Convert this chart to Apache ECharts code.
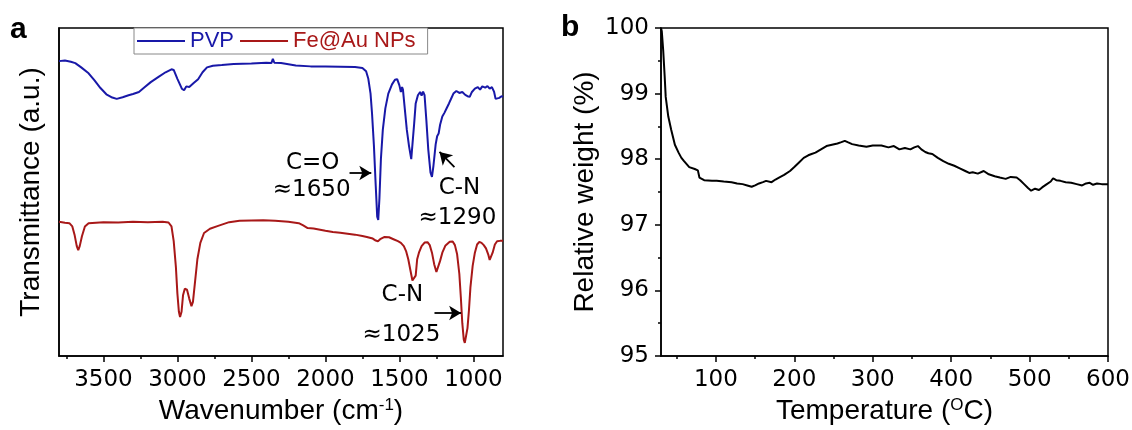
<!DOCTYPE html>
<html>
<head>
<meta charset="utf-8">
<script src="https://cdn.jsdelivr.net/npm/echarts@6/dist/echarts.min.js"></script>
<style>
html,body{margin:0;padding:0;background:#fff;}
#chart{width:1132px;height:430px;}
</style>
</head>
<body>
<div id="chart"></div>
<script>
// ---------- data ----------
const seriesNames = ['PVP', 'Fe@Au NPs'];
// FTIR: [wavenumber (cm-1), transmittance (a.u.)]
const pvpData = [[3800,89.9],[3760,90.1],[3720,89.7],[3690,89.3],[3650,88.0],[3600,86.2],[3560,84.0],[3520,81.7],[3480,79.8],[3440,78.8],[3410,78.4],[3370,78.9],[3330,79.5],[3300,79.9],[3260,80.5],[3220,82.0],[3180,83.5],[3130,85.0],[3080,86.5],[3040,87.4],[3025,87.2],[3000,84.5],[2970,81.5],[2955,81.0],[2940,82.2],[2920,82.0],[2890,83.2],[2860,84.4],[2830,86.5],[2800,88.0],[2760,88.5],[2700,88.7],[2620,89.0],[2500,89.2],[2400,89.4],[2365,89.3],[2355,90.6],[2345,89.4],[2300,89.3],[2200,88.6],[2100,88.3],[2000,88.3],[1900,88.2],[1800,88.1],[1750,87.8],[1725,86.8],[1710,84.5],[1695,80.0],[1685,74.0],[1672,64.0],[1660,52.0],[1650,42.5],[1643,41.5],[1635,48.0],[1625,60.0],[1612,69.0],[1595,75.5],[1575,80.0],[1550,82.8],[1530,84.2],[1515,84.4],[1500,82.5],[1490,80.5],[1482,82.0],[1476,81.2],[1465,76.0],[1450,69.0],[1435,64.0],[1420,60.0],[1410,60.5],[1400,71.0],[1390,77.0],[1375,79.5],[1360,80.5],[1350,79.4],[1340,80.6],[1330,79.5],[1318,72.0],[1305,63.0],[1290,56.0],[1280,54.6],[1270,58.0],[1255,64.5],[1245,67.0],[1235,67.8],[1225,70.5],[1210,73.0],[1195,74.2],[1180,75.6],[1165,77.0],[1150,78.5],[1135,80.0],[1115,80.8],[1095,80.2],[1075,80.5],[1055,79.6],[1040,79.2],[1025,79.0],[1010,80.5],[990,81.5],[970,82.0],[955,81.2],[940,82.2],[920,81.8],[905,82.3],[890,81.5],[875,82.0],[860,80.5],[850,78.4],[840,78.0],[825,78.7],[810,79.2],[800,79.0]];
const feauData = [[3800,40.9],[3760,40.6],[3730,40.5],[3710,39.5],[3695,37.0],[3680,33.5],[3670,32.3],[3660,33.5],[3645,36.5],[3625,39.5],[3600,40.5],[3500,40.8],[3400,40.7],[3300,40.9],[3200,40.8],[3100,40.9],[3060,40.7],[3040,39.5],[3025,35.0],[3010,27.0],[3000,19.0],[2990,13.5],[2982,11.9],[2972,13.5],[2962,18.5],[2950,20.5],[2935,20.2],[2920,17.5],[2905,15.2],[2895,16.5],[2880,23.0],[2865,29.5],[2845,34.5],[2820,37.5],[2780,38.8],[2730,39.6],[2650,40.8],[2580,41.2],[2500,41.3],[2420,41.4],[2340,41.2],[2250,40.9],[2180,40.5],[2150,39.8],[2120,39.0],[2080,38.9],[2000,38.2],[1950,37.8],[1900,37.6],[1850,37.3],[1800,37.0],[1750,36.6],[1720,36.3],[1680,35.8],[1660,35.2],[1645,35.0],[1630,35.6],[1600,36.3],[1570,36.2],[1540,35.6],[1510,35.0],[1490,34.5],[1470,33.5],[1455,32.0],[1440,29.5],[1425,26.0],[1412,23.0],[1400,22.6],[1390,24.5],[1380,29.5],[1368,31.5],[1350,33.5],[1330,34.6],[1310,34.7],[1295,33.8],[1280,31.5],[1265,28.0],[1250,25.6],[1240,26.0],[1225,29.0],[1210,31.5],[1190,33.6],[1160,34.8],[1140,34.9],[1125,33.8],[1110,31.0],[1095,25.0],[1085,18.0],[1075,10.0],[1065,5.0],[1058,4.0],[1050,4.5],[1040,8.5],[1030,14.0],[1020,21.0],[1005,27.5],[990,31.5],[975,34.0],[960,34.8],[945,34.5],[930,33.8],[915,32.8],[900,31.0],[890,29.3],[880,29.8],[870,31.5],[855,34.0],[840,35.0],[820,35.1],[800,35.1]];
// TGA: [temperature (oC), relative weight (%)]
const tgaData = [[30,100],[31,99.95],[32.8,99.66],[34.7,99.26],[36,98.95],[39.3,98.65],[43,98.45],[47.7,98.22],[52.4,98.1],[56,98.02],[59.4,97.97],[66,97.88],[73,97.85],[77,97.83],[79,97.72],[85,97.68],[95,97.67],[101,97.67],[110,97.66],[120,97.65],[127,97.63],[134,97.62],[140,97.6],[145.6,97.58],[150,97.6],[155,97.63],[160,97.65],[164,97.67],[171,97.65],[176,97.69],[180.5,97.72],[187,97.76],[194.5,97.82],[200,97.88],[206,97.95],[212,98.02],[217.8,98.06],[222,98.08],[227,98.1],[234,98.15],[241,98.2],[248,98.22],[255,98.24],[260,98.26],[264.4,98.28],[268,98.26],[273.7,98.23],[282,98.21],[292,98.19],[300,98.21],[311,98.21],[320,98.18],[327,98.2],[334,98.15],[341,98.17],[348,98.15],[353,98.18],[357.6,98.2],[362,98.15],[367,98.11],[371,98.09],[376,98.08],[383,98.02],[390,97.97],[397,97.93],[404,97.9],[411,97.86],[418,97.82],[423,97.79],[427.5,97.8],[434,97.78],[441.5,97.82],[448,97.77],[455.5,97.74],[462,97.72],[469.5,97.7],[476,97.73],[483.5,97.72],[488,97.68],[493,97.62],[498,97.56],[502,97.52],[507,97.55],[512,97.53],[516,97.57],[522,97.62],[527,97.66],[530,97.71],[534,97.68],[539.4,97.67],[546,97.65],[553,97.64],[560,97.62],[567,97.6],[572,97.63],[576.7,97.64],[581,97.61],[586,97.63],[592,97.62],[600,97.62]];
// tick values
const wavenumberMajorTicks = [1000,1500,2000,2500,3000,3500];
const wavenumberMinorTicks = [1250,1750,2250,2750,3250,3750];
const tempMajorTicks = [100,200,300,400,500,600];
const tempMinorTicks = [50,150,250,350,450,550];
// annotations: [wavenumber, value, text]
const annotationTexts = [[2086,58.8,'C=O'],[2093,50.6,'≈1650'],[1094,51.2,'C-N'],[1108,42.1,'≈1290'],[1480,18.6,'C-N'],[1486,6.4,'≈1025']];
const annotationArrows = [[[1837,55.8],[1690,55.8]],[[1128,57.6],[1229,62.2]],[[1263,13.1],[1083,13.1]]];

// ---------- chart ----------
const BLUE = '#1818a8', RED = '#a81818';
const FONT = '"Liberation Sans", Arial, sans-serif';
const NUMFONT = '"DejaVu Sans", sans-serif';
const chart = echarts.init(document.getElementById('chart'), null, {renderer:'canvas'});
const axisLine = {show:true, lineStyle:{color:'#000', width:1.5}};
const tickLabel = {fontSize:23, color:'#000', fontFamily:NUMFONT, formatter:(v)=>String(v)};
const nameStyle = {fontSize:28, color:'#000', fontFamily:FONT,
  rich:{sup:{fontSize:17, verticalAlign:'top', color:'#000', fontFamily:FONT, padding:[0,0,12,0]}}};

const option = {
  animation:false,
  backgroundColor:'#fff',
  textStyle:{fontFamily:FONT},
  title:[
    {text:'a', left:5, top:10, textStyle:{fontSize:30, fontWeight:'bold', color:'#000', fontFamily:FONT}},
    {text:'b', left:556, top:8, textStyle:{fontSize:30, fontWeight:'bold', color:'#000', fontFamily:FONT}}
  ],
  legend:{
    left:134, top:28, padding:[2,12,2,3], itemGap:6, itemWidth:48, itemHeight:2, icon:'rect',
    borderColor:'#888', borderWidth:1, backgroundColor:'#fff', z:10,
    textStyle:{fontSize:22, fontFamily:FONT},
    data:[{name:seriesNames[0], textStyle:{color:BLUE}},{name:seriesNames[1], textStyle:{color:RED}}]
  },
  grid:[
    {left:59, top:28, width:444, height:328, show:true, borderColor:'#000', borderWidth:1.5, containLabel:false, outerBoundsMode:'none'},
    {left:661, top:28, width:447, height:328, show:true, borderColor:'#000', borderWidth:1.5, containLabel:false, outerBoundsMode:'none'}
  ],
  xAxis:[
    {gridIndex:0, type:'value', min:800, max:3800, inverse:true, position:'bottom',
     axisLine, splitLine:{show:false},
     axisTick:{show:true, length:6, lineStyle:{color:'#000', width:1.5}, customValues:wavenumberMajorTicks},
     axisLabel:{...tickLabel, margin:13, customValues:wavenumberMajorTicks},
     name:'Wavenumber (cm{sup|-1})', nameLocation:'middle', nameGap:33, nameTextStyle:nameStyle},
    {gridIndex:0, type:'value', min:800, max:3800, inverse:true, position:'bottom', offset:0,
     axisLine:{show:false}, splitLine:{show:false}, axisLabel:{show:false},
     axisTick:{show:true, length:3, lineStyle:{color:'#000', width:1.5}, customValues:wavenumberMinorTicks}},
    {gridIndex:1, type:'value', min:30, max:600, position:'bottom',
     axisLine, splitLine:{show:false},
     axisTick:{show:true, length:6, lineStyle:{color:'#000', width:1.5}, customValues:tempMajorTicks},
     axisLabel:{...tickLabel, margin:13, customValues:tempMajorTicks},
     name:'Temperature ({sup|O}C)', nameLocation:'middle', nameGap:33, nameTextStyle:nameStyle},
    {gridIndex:1, type:'value', min:30, max:600, position:'bottom', offset:0,
     axisLine:{show:false}, splitLine:{show:false}, axisLabel:{show:false},
     axisTick:{show:true, length:3, lineStyle:{color:'#000', width:1.5}, customValues:tempMinorTicks}}
  ],
  yAxis:[
    {gridIndex:0, type:'value', min:0, max:100, axisLine, splitLine:{show:false},
     axisTick:{show:false}, axisLabel:{show:false},
     name:'Transmittance (a.u.)', nameLocation:'middle', nameGap:14, nameTextStyle:nameStyle},
    {gridIndex:1, type:'value', min:95, max:100, interval:1, axisLine, splitLine:{show:false},
     axisTick:{show:true, length:6, lineStyle:{color:'#000', width:1.5}},
     minorTick:{show:true, splitNumber:2, length:3, lineStyle:{color:'#000', width:1.5}},
     axisLabel:{...tickLabel, margin:12},
     name:'Relative weight (%)', nameLocation:'middle', nameGap:62, nameTextStyle:nameStyle}
  ],
  series:[
    {name:seriesNames[0], type:'line', xAxisIndex:0, yAxisIndex:0, data:pvpData, showSymbol:false, symbol:'none',
     color:BLUE, lineStyle:{color:BLUE, width:2}},
    {name:seriesNames[1], type:'line', xAxisIndex:0, yAxisIndex:0, data:feauData, showSymbol:false, symbol:'none',
     color:RED, lineStyle:{color:RED, width:2}},
    {name:'annotations', type:'scatter', xAxisIndex:0, yAxisIndex:0, symbolSize:0, silent:true,
     itemStyle:{opacity:1, color:'#000'},
     data:annotationTexts.map(a=>({value:[a[0],a[1]], label:{formatter:a[2], color:'#000'}})),
     label:{show:true, position:'inside', fontSize:23, color:'#000', fontFamily:NUMFONT, textBorderWidth:0, opacity:1},
     markLine:{silent:true, symbol:['none','arrow'], symbolSize:[11,12],
       lineStyle:{color:'#000', width:1.8, type:'solid', opacity:1}, label:{show:false},
       data:annotationArrows.map(a=>[{coord:a[0]},{coord:a[1]}])}},
    {name:'TGA', type:'line', xAxisIndex:2, yAxisIndex:1, data:tgaData, showSymbol:false, symbol:'none',
     color:'#000', lineStyle:{color:'#000', width:2}}
  ]
};
chart.setOption(option);
</script>
</body>
</html>
